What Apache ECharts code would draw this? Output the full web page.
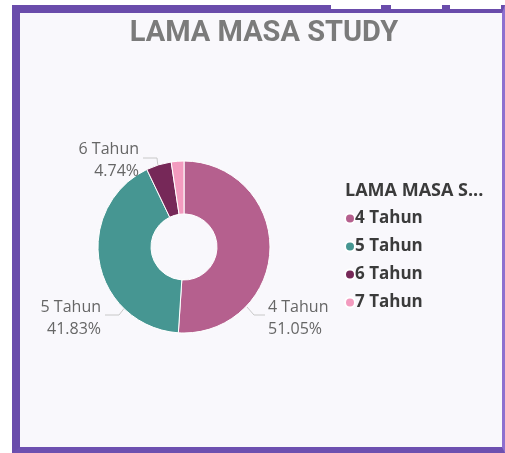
<!DOCTYPE html>
<html>
<head>
<meta charset="utf-8">
<script src="https://cdn.jsdelivr.net/npm/echarts@6/dist/echarts.min.js"></script>
<style>
  html, body { margin: 0; padding: 0; background: #ffffff; }
  .frame {
    position: absolute; left: 12px; top: 5px;
    width: 482px; height: 434px;
    border-left: 8px solid #6a4cab;
    border-top: 8px solid #6a4cab;
    border-right: 3px solid #8e70cf;
    border-bottom: 6px solid #6d50b0;
    background: #f9f8fc;
  }
  .tab { position: absolute; top: 0; height: 9px; background: #ffffff; }
  #chart { position: absolute; left: 0; top: 0; width: 505px; height: 453px; }
</style>
</head>
<body>
<div class="frame"></div>
<div class="tab" style="left:331px;width:50px"></div>
<div class="tab" style="left:391px;width:51px"></div>
<div class="tab" style="left:450px;width:51px"></div>
<div id="chart"></div>
<script>
// data
var categories = ["4 Tahun", "5 Tahun", "6 Tahun", "7 Tahun"];
var percents = [51.05, 41.83, 4.74, 2.38];
var colors = ["#b5608e", "#469692", "#762858", "#f39bbf"];

// where power bi put the data labels (text anchor + leader line)
var labelSpots = [
  { x: 268, y: 318, line: [[247, 307], [254, 315], [265, 315]] },
  { x: 101, y: 318, line: [[126, 306], [119, 315], [105, 315]] },
  { x: 139, y: 160, line: [[158, 167], [157, 158], [143, 158]] }
];

var myChart = echarts.init(document.getElementById("chart"));

var pieData = categories.map(function (name, i) {
  var item = { name: name, value: percents[i], itemStyle: { color: colors[i] } };
  // smallest slice has no label in the original
  if (i === 3) {
    item.label = { show: false };
    item.labelLine = { show: false };
  }
  return item;
});

var option = {
  animation: false,
  title: [
    {
      text: "LAMA MASA STUDY",
      left: 259, top: 14, textAlign: "center",
      textStyle: { fontFamily: "Roboto", fontWeight: "bold", fontSize: 29, color: "#7b7b7b" }
    },
    {
      text: "LAMA MASA S...",
      left: 340, top: 177,
      textStyle: { fontFamily: "Open Sans", fontWeight: "bold", fontSize: 18, color: "#3b3b3b" }
    }
  ],
  legend: {
    orient: "vertical",
    left: 339, top: 205,
    icon: "circle",
    itemWidth: 10, itemHeight: 10,
    itemGap: 11,
    data: categories,
    textStyle: { fontFamily: "Open Sans", fontWeight: "bold", fontSize: 17, color: "#3b3b3b", padding: [0, 0, 0, -5] }
  },
  series: [
    {
      type: "pie",
      center: [184, 247],
      radius: [33, 86],
      startAngle: 90,
      clockwise: true,
      data: pieData,
      itemStyle: { borderColor: "#ffffff", borderWidth: 1 },
      label: {
        position: "outside",
        formatter: function (p) { return p.name + "\n" + p.value.toFixed(2) + "%"; },
        fontFamily: "Open Sans", fontSize: 16, color: "#666666", lineHeight: 22
      },
      labelLine: { length: 10, length2: 12, lineStyle: { color: "#c8c8c8", width: 1 } },
      labelLayout: function (params) {
        var s = labelSpots[params.dataIndex];
        if (!s) return {};
        return { x: s.x, y: s.y, verticalAlign: "middle", labelLinePoints: s.line };
      }
    }
  ]
};

myChart.setOption(option);
</script>
</body>
</html>
